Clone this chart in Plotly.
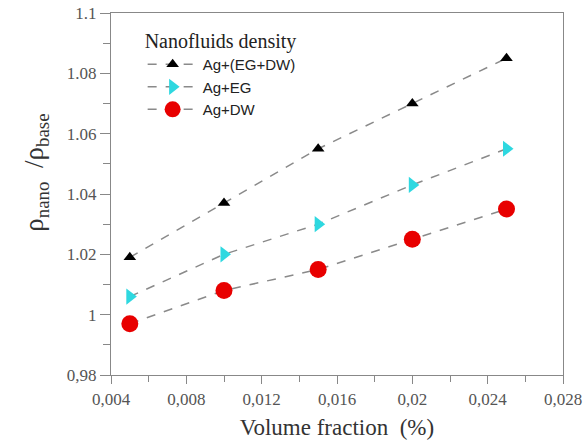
import plotly.graph_objects as go

x = [0.005, 0.010, 0.015, 0.020, 0.025]
ag_egdw = [1.019, 1.037, 1.055, 1.070, 1.085]
ag_eg = [1.006, 1.020, 1.030, 1.043, 1.055]
ag_dw = [0.997, 1.008, 1.015, 1.025, 1.035]

names = ["Ag+(EG+DW)", "Ag+EG", "Ag+DW"]

xtick_vals = [0.004, 0.008, 0.012, 0.016, 0.020, 0.024, 0.028]
xtick_text = ["0,004", "0,008", "0,012", "0,016", "0,02", "0,024", "0,028"]
ytick_vals = [0.98, 1.00, 1.02, 1.04, 1.06, 1.08, 1.10]
ytick_text = ["0,98", "1", "1.02", "1.04", "1.06", "1.08", "1.1"]

fig = go.Figure()
styles = [
    dict(symbol="triangle-up", color="black", size=11),
    dict(symbol="triangle-right", color="#2ed8e0", size=14),
    dict(symbol="circle", color="#e80000", size=17),
]
for name, ys, st in zip(names, [ag_egdw, ag_eg, ag_dw], styles):
    fig.add_trace(go.Scatter(
        x=x, y=ys, name=name, mode="lines+markers",
        line=dict(color="#8a8a8a", width=1.5, dash="dash"),
        marker=dict(symbol=st["symbol"], color=st["color"], size=st["size"],
                    line=dict(width=0)),
    ))

serif = "Liberation Serif, Times New Roman, serif"
fig.update_layout(
    width=586, height=443,
    margin=dict(l=111, r=23, t=13, b=68),
    plot_bgcolor="white", paper_bgcolor="white",
    showlegend=True,
    legend=dict(
        x=0.07, y=0.975, xanchor="left", yanchor="top",
        bgcolor="rgba(0,0,0,0)",
        title=dict(text="Nanofluids density", font=dict(family=serif, size=20, color="#222")),
        font=dict(family="Liberation Sans, Arial, sans-serif", size=15, color="#222"),
        itemwidth=50, tracegroupgap=0,
    ),
    xaxis=dict(
        range=[0.004, 0.028], tickvals=xtick_vals, ticktext=xtick_text,
        showgrid=False, zeroline=False, automargin=False,
        showline=True, linecolor="#888", linewidth=1.2, mirror=True,
        ticks="outside", ticklen=8, tickcolor="#888", tickwidth=1.2,
        minor=dict(dtick=0.002, ticks="outside", ticklen=6, tickcolor="#888", tickwidth=1.2),
        tickfont=dict(family=serif, size=17, color="#555"),
        title=dict(text="Volume fraction  (%)", font=dict(family=serif, size=23, color="#333"), standoff=11),
    ),
    yaxis=dict(
        range=[0.98, 1.10], tickvals=ytick_vals, ticktext=ytick_text,
        showgrid=False, zeroline=False, automargin=False,
        showline=True, linecolor="#888", linewidth=1.2, mirror=True,
        ticks="outside", ticklen=10, tickcolor="#888", tickwidth=1.2,
        minor=dict(dtick=0.01, ticks="outside", ticklen=7, tickcolor="#888", tickwidth=1.2),
        tickfont=dict(family=serif, size=17, color="#555"),
    ),
    annotations=[dict(
        text="ρ<sub>nano</sub>  /ρ<sub>base</sub>", textangle=-90,
        xref="paper", yref="paper", x=-0.165, y=0.56,
        xanchor="center", yanchor="middle", showarrow=False,
        font=dict(family=serif, size=27, color="#333"),
    )],
)

fig.write_html("out.html")
